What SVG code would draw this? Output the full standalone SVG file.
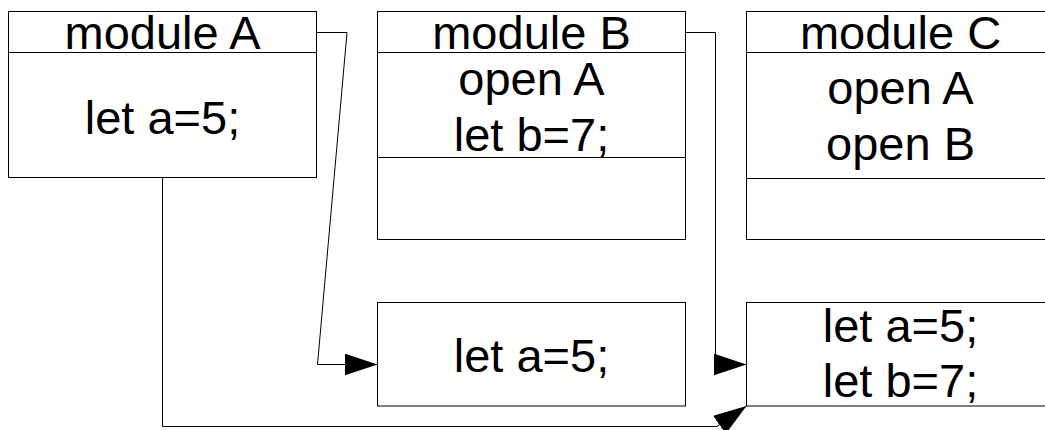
<svg xmlns="http://www.w3.org/2000/svg" width="1045" height="430" viewBox="0 0 1045 430">
  <style>
    .box { fill: #ffffff; stroke: #000000; stroke-width: 1; }
    .sep { stroke: #000000; stroke-width: 1; }
    .txt { font-family: "Liberation Sans", Arial, sans-serif; font-size: 47px; fill: #000000; text-anchor: middle; }
    .wire { fill: none; stroke: #000000; stroke-width: 1; }
  </style>
  <defs>
    <marker id="head" viewBox="0 0 33 22" refX="33" refY="11" markerWidth="33" markerHeight="22" markerUnits="userSpaceOnUse" orient="auto">
      <path d="M0,0 L33,11 L0,22 Z" fill="#000000"/>
    </marker>
  </defs>
  <rect width="1045" height="430" fill="#ffffff"/>

  <!-- module A -->
  <g id="moduleA">
    <rect class="box" x="8.5" y="11.5" width="308" height="166"/>
    <line class="sep" x1="8.5" y1="52.5" x2="316.5" y2="52.5"/>
    <text class="txt" x="162.5" y="49">module A</text>
    <text class="txt" x="162.5" y="133.5">let a=5;</text>
  </g>

  <!-- module B -->
  <g id="moduleB">
    <rect class="box" x="377.5" y="11.5" width="308" height="228"/>
    <line class="sep" x1="377.5" y1="52.5" x2="685.5" y2="52.5"/>
    <line class="sep" x1="377.5" y1="157.5" x2="685.5" y2="157.5"/>
    <text class="txt" x="531.5" y="49">module B</text>
    <text class="txt" x="531.5" y="94.5">open A</text>
    <text class="txt" x="531.5" y="151">let b=7;</text>
  </g>

  <!-- module C -->
  <g id="moduleC">
    <rect class="box" x="746.5" y="11.5" width="308" height="228"/>
    <line class="sep" x1="746.5" y1="52.5" x2="1054.5" y2="52.5"/>
    <line class="sep" x1="746.5" y1="178.5" x2="1054.5" y2="178.5"/>
    <text class="txt" x="900.5" y="49">module C</text>
    <text class="txt" x="900.5" y="103.5">open A</text>
    <text class="txt" x="900.5" y="160">open B</text>
  </g>

  <!-- contents of B after opening A -->
  <g id="envB">
    <rect class="box" x="377.5" y="302.5" width="308" height="103.5"/>
    <text class="txt" x="531.5" y="371.5">let a=5;</text>
  </g>

  <!-- contents of C after opening A and B -->
  <g id="envC">
    <rect class="box" x="746.5" y="302.5" width="308" height="103.5"/>
    <text class="txt" x="900.5" y="341.5">let a=5;</text>
    <text class="txt" x="900.5" y="396.5">let b=7;</text>
  </g>

  <!-- connectors -->
  <g id="connectors">
    <path class="wire" d="M316.5,32.5 H347 L317.5,364.5 H377.5" marker-end="url(#head)"/>
    <path class="wire" d="M685.5,32.5 H715.5 V364.5 H746.5" marker-end="url(#head)"/>
    <path class="wire" d="M162.5,177.5 V426.5 H717 L746.5,406" marker-end="url(#head)"/>
  </g>
</svg>
